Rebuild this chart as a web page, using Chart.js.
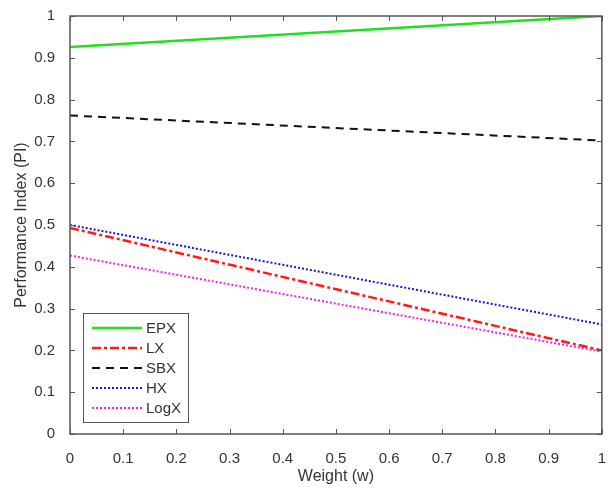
<!DOCTYPE html>
<html>
<head>
<meta charset="utf-8">
<script src="https://cdn.jsdelivr.net/npm/chart.js@4/dist/chart.umd.min.js"></script>
<style>
  html, body { margin: 0; padding: 0; background: #fff; }
  #wrap { width: 614px; height: 490px; }
</style>
</head>
<body>
<div id="wrap"><canvas id="c" width="614" height="490"></canvas></div>
<script>
// weights at the ends of each line
const weights = [0, 1];
const epx = [0.926, 1.0];
const lx = [0.493, 0.2];
const sbx = [0.762, 0.702];
const hx = [0.5, 0.262];
const logx = [0.427, 0.197];

const seriesNames = ['EPX', 'LX', 'SBX', 'HX', 'LogX'];
const xTicks = [0, 0.1, 0.2, 0.3, 0.4, 0.5, 0.6, 0.7, 0.8, 0.9, 1];
const yTicks = [0, 0.1, 0.2, 0.3, 0.4, 0.5, 0.6, 0.7, 0.8, 0.9, 1];

const axisColor = '#555';
const textColor = '#333';
const fontFamily = '"Liberation Sans", Arial, sans-serif';

function pts(vals) {
    return weights.map((w, i) => ({ x: w, y: vals[i] }));
}

// box round the plot plus MATLAB style inward ticks on every side
const boxPlugin = {
    id: 'box',
    afterDatasetsDraw(chart) {
        const ctx = chart.ctx;
        const a = chart.chartArea;
        const xs = chart.scales.x, ys = chart.scales.y;
        ctx.save();
        ctx.strokeStyle = axisColor;
        ctx.lineWidth = 1.5;
        ctx.setLineDash([]);
        ctx.strokeRect(a.left, a.top, a.right - a.left, a.bottom - a.top);
        ctx.lineWidth = 1;
        const len = 5;
        xTicks.forEach(t => {
            const px = Math.round(xs.getPixelForValue(t)) + 0.5;
            ctx.beginPath();
            ctx.moveTo(px, a.bottom); ctx.lineTo(px, a.bottom - len);
            ctx.moveTo(px, a.top); ctx.lineTo(px, a.top + len);
            ctx.stroke();
        });
        yTicks.forEach(t => {
            const py = Math.round(ys.getPixelForValue(t)) + 0.5;
            ctx.beginPath();
            ctx.moveTo(a.left, py); ctx.lineTo(a.left + len, py);
            ctx.moveTo(a.right, py); ctx.lineTo(a.right - len, py);
            ctx.stroke();
        });
        ctx.restore();
    }
};

// legend drawn inside the plot, lower left
const legendPlugin = {
    id: 'boxLegend',
    afterDraw(chart) {
        const ctx = chart.ctx;
        const bx = 83, by = 313, bw = 105, bh = 109;
        ctx.save();
        ctx.fillStyle = '#fff';
        ctx.fillRect(bx, by, bw, bh);
        ctx.strokeStyle = axisColor;
        ctx.lineWidth = 1;
        ctx.strokeRect(bx + 0.5, by + 0.5, bw, bh);
        ctx.font = '15px ' + fontFamily;
        ctx.textBaseline = 'middle';
        chart.data.datasets.forEach((ds, i) => {
            const y = by + 15 + i * 20;
            ctx.strokeStyle = ds.borderColor;
            ctx.lineWidth = ds.borderWidth;
            ctx.setLineDash(ds.borderDash || []);
            ctx.beginPath();
            ctx.moveTo(bx + 9, y);
            ctx.lineTo(bx + 59, y);
            ctx.stroke();
            ctx.setLineDash([]);
            ctx.fillStyle = textColor;
            ctx.fillText(ds.label, bx + 63, y + 1);
        });
        ctx.restore();
    }
};

const styles = [
    { color: '#1ee01e', dash: [], width: 2.5 },
    { color: '#ff1a1a', dash: [9, 3, 3, 3], width: 2.5 },
    { color: '#111111', dash: [8, 6], width: 2 },
    { color: '#1515d0', dash: [2, 2], width: 2 },
    { color: '#ee22ee', dash: [2, 2], width: 2 }
];
const seriesData = [epx, lx, sbx, hx, logx];

new Chart(document.getElementById('c').getContext('2d'), {
    type: 'line',
    data: {
        datasets: seriesNames.map((name, i) => ({
            label: name,
            data: pts(seriesData[i]),
            borderColor: styles[i].color,
            borderDash: styles[i].dash,
            borderWidth: styles[i].width,
            pointRadius: 0,
            fill: false,
            tension: 0
        }))
    },
    options: {
        responsive: false,
        animation: false,
        layout: { padding: { top: 14, right: 9, left: 0, bottom: 0 } },
        plugins: { legend: { display: false }, tooltip: { enabled: false } },
        scales: {
            x: {
                type: 'linear', min: 0, max: 1,
                afterBuildTicks(s) { s.ticks = xTicks.map(v => ({ value: v })); },
                afterFit(s) { s.height = 56; },
                grid: { display: false },
                border: { display: false },
                ticks: { color: textColor, font: { size: 15, family: fontFamily }, padding: 8, maxRotation: 0,
                         callback: v => String(v) },
                title: { display: true, text: 'Weight (w)', color: textColor,
                         font: { size: 16, family: fontFamily }, padding: { top: 2, bottom: 4 } }
            },
            y: {
                type: 'linear', min: 0, max: 1,
                afterBuildTicks(s) { s.ticks = yTicks.map(v => ({ value: v })); },
                afterFit(s) { s.width = 70; },
                grid: { display: false },
                border: { display: false },
                ticks: { color: textColor, font: { size: 15, family: fontFamily }, padding: 7,
                         callback: v => String(v) },
                title: { display: true, text: 'Performance Index (PI)', color: textColor,
                         font: { size: 16, family: fontFamily }, padding: { top: 12, bottom: 4 } }
            }
        }
    },
    plugins: [boxPlugin, legendPlugin]
});
</script>
</body>
</html>
